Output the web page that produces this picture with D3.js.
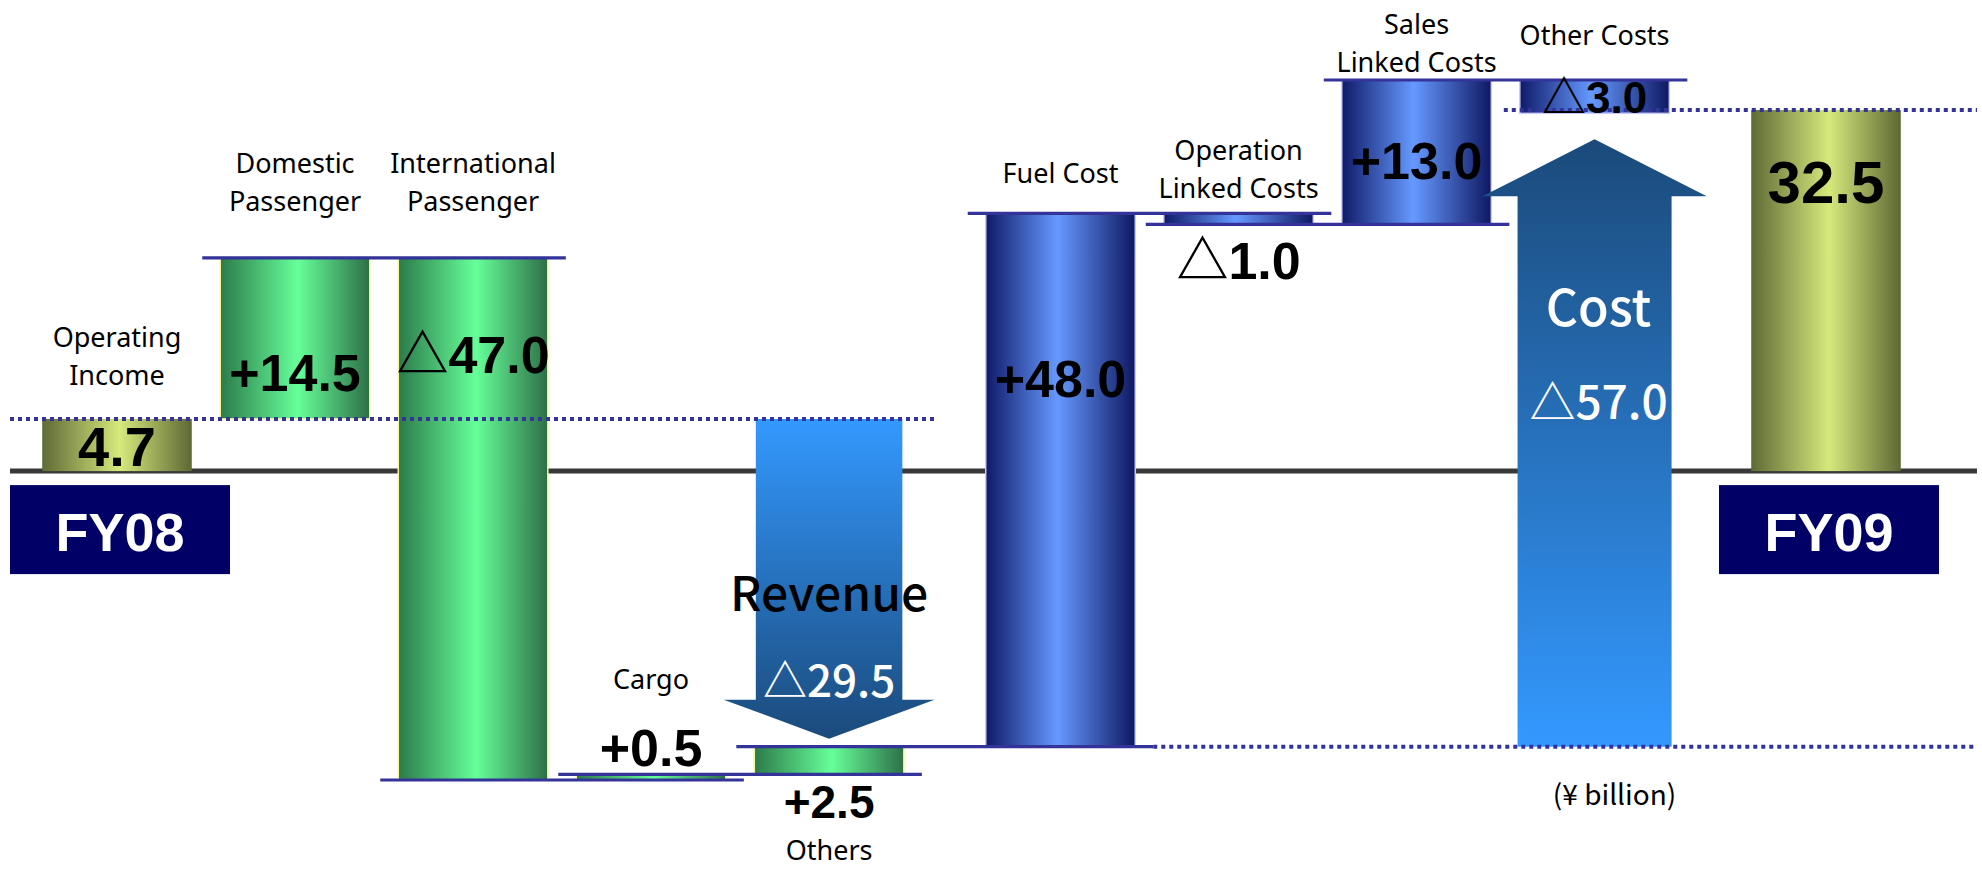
<!DOCTYPE html>
<html>
<head>
<meta charset="utf-8">
<script src="https://cdn.jsdelivr.net/npm/d3@7"></script>
<style>
  html, body { margin: 0; padding: 0; background: #ffffff; }
  svg { display: block; }
</style>
</head>
<body>
<svg id="chart" width="1982" height="870"></svg>
<script>
// Operating income bridge FY08 -> FY09, in ¥ billion
const categories = ["Operating Income", "Domestic Passenger", "International Passenger", "Cargo", "Others",
                    "Fuel Cost", "Operation Linked Costs", "Sales Linked Costs", "Other Costs", "Operating Income FY09"];
const nameLines = [["Operating", "Income"], ["Domestic", "Passenger"], ["International", "Passenger"], ["Cargo"], ["Others"],
                   ["Fuel Cost"], ["Operation", "Linked Costs"], ["Sales", "Linked Costs"], ["Other Costs"], []];
const kinds = ["total", "revenue", "revenue", "revenue", "revenue", "cost", "cost", "cost", "cost", "total"];
const values = [4.7, 14.5, -47.0, 0.5, 2.5, 48.0, -1.0, 13.0, -3.0, 32.5];
const valueLabels = ["4.7", "+14.5", "△47.0", "+0.5", "+2.5", "+48.0", "△1.0", "+13.0", "△3.0", "32.5"];
const periods = ["FY08", "FY09"];
const groupNames = ["Revenue", "Cost"];
const groupKinds = ["revenue", "cost"];
const groupEffects = [-29.5, 57.0];
const groupLabels = ["△29.5", "△57.0"];
const unitLabel = "(¥ billion)";

// ---- layout / style ----
const lineLeft = 10, lineRight = 1977;
const sectionGap = 0.3;              // extra slot space between revenue, cost and closing total
const navy = "#333399";
const numFont = "'Liberation Sans', Arial, 'Noto Sans CJK JP', sans-serif";
const nameFont = "'Noto Sans', 'Noto Sans CJK JP', sans-serif";
const jpFont = "'Noto Sans CJK JP', 'Noto Sans', sans-serif";

// where each value label sits relative to its bar (top / bottom edge in pixels, or centred)
const valuePlacement = [
  { at: "middle", size: 56 }, { at: "bottom", dy: -28 }, { at: "top", dy: 115 }, { at: "top", dy: -8 },
  { at: "bottom", dy: 44, size: 46 }, { at: "top", dy: 184 }, { at: "bottom", dy: 55 }, { at: "top", dy: 99 },
  { at: "middle", size: 44 }, { at: "top", dy: 93, size: 60 }
];
// category name placement: "top" -> last line baseline above bar top; "bottom" -> first line below bar bottom
const namePlacement = [
  { at: "top", dy: -34 }, { at: "top", dy: -47 }, { at: "top", dy: -47 }, { at: "top", dy: -85 },
  { at: "bottom", dy: 86 }, { at: "top", dy: -30 }, { at: "top", dy: -15 }, { at: "top", dy: -8 },
  { at: "top", dy: -35 }, null
];
const arrowStyle = {
  revenue: { gap: 8, head: 39, shaft: 0.98, headW: 1.41 },
  cost:    { gap: 26, head: 57, shaft: 1.03, headW: 1.50 }
};

// ---- running levels of the bridge ----
let run = 0, section = 0;
const steps = values.map((v, i) => {
  let start, end;
  if (kinds[i] === "total") { start = 0; end = v; run = v; }
  else { start = run; end = run + v; run = end; }
  if (i > 0 && kinds[i] !== kinds[i - 1] && kinds[i - 1] !== "total") section++;
  return { i, name: categories[i], kind: kinds[i], value: v, start, end,
           label: valueLabels[i], lines: nameLines[i], slot: i + section * sectionGap };
});

const x = d3.scaleLinear()
  .domain([0, d3.max(steps, d => d.slot)])
  .range([117, 1826]);
const step = x(1) - x(0);
const bw = step * 0.84;

const levels = steps.flatMap(d => [d.start, d.end]);
const y = d3.scaleLinear()
  .domain(d3.extent(levels))
  .range([780, 80]);

const svg = d3.select("#chart");
const defs = svg.append("defs");

function hGrad(id, edgeL, mid, edgeR, midAt) {
  const g = defs.append("linearGradient").attr("id", id).attr("x1", 0).attr("x2", 1).attr("y1", 0).attr("y2", 0);
  g.append("stop").attr("offset", 0).attr("stop-color", edgeL);
  g.append("stop").attr("offset", midAt).attr("stop-color", mid);
  g.append("stop").attr("offset", 1).attr("stop-color", edgeR);
}
hGrad("g-revenue", "#2c7a4b", "#66ff99", "#2d6f47", 0.52);
hGrad("g-cost", "#0f1a68", "#6699ff", "#0e1862", 0.48);
hGrad("g-total", "#5e6a36", "#d6e97c", "#5d6834", 0.52);

function vGrad(id, top, bottom) {
  const g = defs.append("linearGradient").attr("id", id).attr("x1", 0).attr("x2", 0).attr("y1", 0).attr("y2", 1);
  g.append("stop").attr("offset", 0).attr("stop-color", top);
  g.append("stop").attr("offset", 1).attr("stop-color", bottom);
}
vGrad("a-revenue", "#3399ff", "#1b4a7b");
vGrad("a-cost", "#1b4a7a", "#3399ff");

const fillOf = { total: "url(#g-total)", revenue: "url(#g-revenue)", cost: "url(#g-cost)" };
const strokeOf = { total: "none", revenue: "#f6f69a", cost: "#c9c9ff" };

// zero line
svg.append("line")
  .attr("x1", lineLeft).attr("x2", lineRight)
  .attr("y1", y(0)).attr("y2", y(0))
  .attr("stroke", "#383838").attr("stroke-width", 5);

// bars
svg.append("g").selectAll("rect").data(steps).join("rect")
  .attr("x", d => x(d.slot) - bw / 2)
  .attr("y", d => y(Math.max(d.start, d.end)))
  .attr("width", bw)
  .attr("height", d => Math.abs(y(d.start) - y(d.end)))
  .attr("fill", d => fillOf[d.kind])
  .attr("stroke", d => strokeOf[d.kind])
  .attr("stroke-width", 1.5);

// group arrows (revenue total down, cost total up)
const arrows = groupKinds.map((k, gi) => {
  const members = steps.filter(d => d.kind === k);
  const last = members[members.length - 1];
  const from = members[0].start;
  const to = from + groupEffects[gi];
  const st = arrowStyle[k];
  const cx = x(last.slot);
  const dir = to < from ? 1 : -1;           // +1 = pointing down in pixels
  const y0 = y(from);
  const tip = y(to) - dir * st.gap;
  const headBase = tip - dir * st.head;
  const sw = bw * st.shaft / 2, hw = bw * st.headW / 2;
  return { k, gi, cx, y0, tip, headBase, sw, hw, from, to };
});

svg.append("g").selectAll("path").data(arrows).join("path")
  .attr("d", a => {
    const p = d3.path();
    p.moveTo(a.cx - a.sw, a.y0);
    p.lineTo(a.cx + a.sw, a.y0);
    p.lineTo(a.cx + a.sw, a.headBase);
    p.lineTo(a.cx + a.hw, a.headBase);
    p.lineTo(a.cx, a.tip);
    p.lineTo(a.cx - a.hw, a.headBase);
    p.lineTo(a.cx - a.sw, a.headBase);
    p.closePath();
    return p.toString();
  })
  .attr("fill", a => `url(#a-${a.k})`);

// connectors between consecutive change bars
const links = [];
for (let i = 1; i < steps.length - 2; i++) {
  const a = steps[i], b = steps[i + 1];
  links.push({ level: a.end, x1: x(a.slot) - bw / 2 - 18, x2: x(b.slot) + bw / 2 + 18 });
}
svg.append("g").selectAll("line").data(links).join("line")
  .attr("x1", d => d.x1).attr("x2", d => d.x2)
  .attr("y1", d => y(d.level)).attr("y2", d => y(d.level))
  .attr("stroke", navy).attr("stroke-width", 3.2);

// dotted reference levels
const revArrow = arrows[0], costArrow = arrows[1];
const lastRev = steps.filter(d => d.kind === "revenue").pop();
const firstCost = steps.find(d => d.kind === "cost");
const lastCost = steps.filter(d => d.kind === "cost").pop();
const dotted = [
  { level: steps[0].end, x1: lineLeft, x2: revArrow.cx + revArrow.hw },
  { level: lastRev.end, x1: x(firstCost.slot) + bw / 2 + 18, x2: lineRight },
  { level: steps[steps.length - 1].end, x1: x(lastCost.slot) - bw / 2 - 16, x2: lineRight }
];
svg.append("g").selectAll("line").data(dotted).join("line")
  .attr("x1", d => d.x1).attr("x2", d => d.x2)
  .attr("y1", d => y(d.level)).attr("y2", d => y(d.level))
  .attr("stroke", navy).attr("stroke-width", 4).attr("stroke-dasharray", "4,4");

// value labels
const topPx = d => y(Math.max(d.start, d.end));
const botPx = d => y(Math.min(d.start, d.end));
svg.append("g").selectAll("text").data(steps).join("text")
  .attr("x", d => x(d.slot))
  .attr("y", d => {
    const p = valuePlacement[d.i];
    const size = p.size || 52;
    if (p.at === "middle") return (topPx(d) + botPx(d)) / 2 + size * 0.38;
    return (p.at === "top" ? topPx(d) : botPx(d)) + p.dy;
  })
  .attr("text-anchor", "middle")
  .attr("font-family", numFont)
  .attr("font-weight", "bold")
  .attr("font-size", d => (valuePlacement[d.i].size || 52) + "px")
  .attr("fill", "#000")
  .text(d => d.label);

// category names
const nameG = svg.append("g")
  .attr("font-family", nameFont).attr("font-size", "27px").attr("fill", "#000").attr("text-anchor", "middle");
steps.forEach(d => {
  const p = namePlacement[d.i];
  if (!p || !d.lines.length) return;
  const lh = 38;
  const n = d.lines.length;
  d.lines.forEach((ln, j) => {
    const base = p.at === "top" ? topPx(d) + p.dy - (n - 1 - j) * lh : botPx(d) + p.dy + j * lh;
    nameG.append("text").attr("x", x(d.slot)).attr("y", base).text(ln);
  });
});

// arrow captions
const cap = svg.append("g").attr("font-family", jpFont).attr("text-anchor", "middle");
cap.append("text").attr("x", revArrow.cx).attr("y", revArrow.headBase - 89)
  .attr("font-size", "48px").attr("font-weight", 500).attr("fill", "#000").text(groupNames[0]);
cap.append("text").attr("x", revArrow.cx).attr("y", revArrow.headBase - 3)
  .attr("font-size", "44px").attr("font-weight", 500).attr("fill", "#fff").text(groupLabels[0]);
cap.append("text").attr("x", costArrow.cx + 4).attr("y", costArrow.tip + 187)
  .attr("font-size", "50px").attr("font-weight", 500).attr("fill", "#fff").text(groupNames[1]);
cap.append("text").attr("x", costArrow.cx + 4).attr("y", costArrow.tip + 280)
  .attr("font-size", "46px").attr("font-weight", 500).attr("fill", "#fff").text(groupLabels[1]);

// period boxes under the opening and closing totals
const totals = steps.filter(d => d.kind === "total");
const boxW = 220, boxH = 89;
const boxes = svg.append("g").selectAll("g").data(totals).join("g")
  .attr("transform", d => `translate(${x(d.slot) + 3 - boxW / 2},${y(0) + 14})`);
boxes.append("rect").attr("width", boxW).attr("height", boxH).attr("fill", "#000066");
boxes.append("text")
  .attr("x", boxW / 2).attr("y", 66)
  .attr("text-anchor", "middle")
  .attr("font-family", numFont).attr("font-weight", "bold").attr("font-size", "54px")
  .attr("fill", "#fff")
  .text((d, i) => periods[i]);

// unit note
svg.append("text")
  .attr("x", costArrow.cx + 20).attr("y", 805)
  .attr("text-anchor", "middle")
  .attr("font-family", jpFont).attr("font-size", "28px").attr("fill", "#000")
  .text(unitLabel);
</script>
</body>
</html>
